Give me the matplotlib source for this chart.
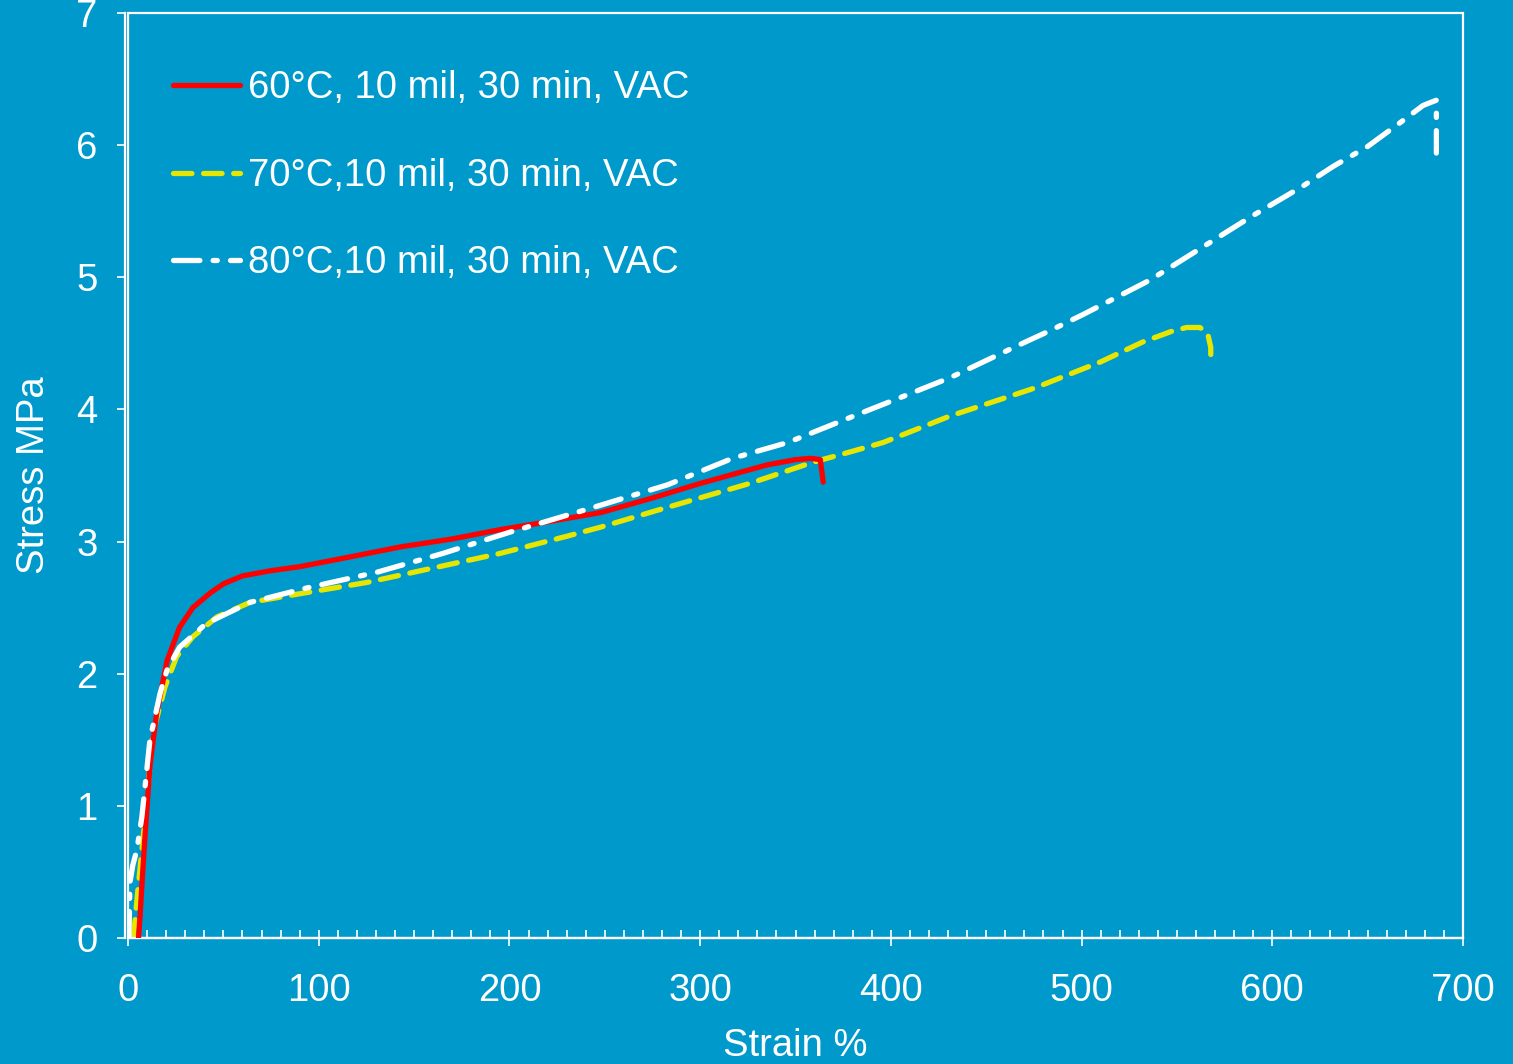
import matplotlib
matplotlib.use("Agg")
import matplotlib.pyplot as plt
from matplotlib.patches import Rectangle
from matplotlib.ticker import MultipleLocator

plt.rcParams['font.family'] = ['Liberation Sans', 'DejaVu Sans']

# values
strain_60 = [5.5, 6.3, 7.5, 9, 11.5, 15, 20.5, 27, 34, 43, 50, 60, 75, 90, 115,
             143, 170, 195, 220, 248, 275, 300, 320, 335, 350, 358, 363, 364.5]
stress_60 = [0, 0.16, 0.45, 0.79, 1.3, 1.7, 2.1, 2.35, 2.5, 2.61, 2.68, 2.74, 2.78, 2.81, 2.88,
             2.96, 3.02, 3.09, 3.15, 3.22, 3.33, 3.44, 3.52, 3.58, 3.62, 3.63, 3.62, 3.45]

strain_70 = [2.8, 5.5, 7.3, 10.7, 13, 19.4, 25.5, 34, 46.7, 64, 92, 125, 160, 195, 230,
             248, 283, 326, 359, 379, 396, 431, 475, 510, 532, 547, 555, 562, 566, 567.7, 567.7]
stress_70 = [0, 0.41, 0.67, 1.17, 1.55, 1.9, 2.13, 2.28, 2.43, 2.54, 2.61, 2.69, 2.80, 2.91, 3.04,
             3.11, 3.26, 3.44, 3.60, 3.68, 3.75, 3.95, 4.16, 4.36, 4.51, 4.59, 4.62, 4.62, 4.58, 4.47, 4.40]

strain_80 = [0.5, 1, 2.5, 4.7, 7.3, 11.5, 16.8, 20.5, 27, 41, 64, 94, 131, 165, 200,
             242, 283, 317, 346, 384, 405, 431, 466, 484, 501, 536, 589, 616, 632, 650,
             667, 679, 686, 686]
stress_80 = [0, 0.42, 0.55, 0.67, 0.92, 1.5, 1.85, 2.03, 2.2, 2.38, 2.54, 2.65, 2.77, 2.91, 3.07,
             3.25, 3.43, 3.63, 3.75, 3.97, 4.09, 4.24, 4.48, 4.60, 4.72, 4.98, 5.46, 5.69, 5.84, 5.99,
             6.17, 6.30, 6.34, 5.94]

labels = ['60°C, 10 mil, 30 min, VAC', '70°C,10 mil, 30 min, VAC', '80°C,10 mil, 30 min, VAC']

bg = '#0099CC'
fs = 27.5

fig = plt.figure(figsize=(15.13, 10.64), dpi=100, facecolor=bg)
ax = fig.add_axes([0.0846, 0.1184, 0.8824, 0.8694])
ax.set_facecolor(bg)

ax.plot(strain_60, stress_60, color='#FF0000', lw=3.8, label=labels[0],
        solid_capstyle='round', zorder=3)
ax.plot(strain_70, stress_70, color='#E6E600', lw=3.8, ls=(0, (3.5, 2.2)), label=labels[1],
        dash_capstyle='round', zorder=2)
ax.plot(strain_80, stress_80, color='white', lw=3.8, ls=(0, (5, 2.5, 0.8, 2.5)), label=labels[2],
        dash_capstyle='round', zorder=4)

ax.set_xlim(0, 700)
ax.set_ylim(0, 7)
ax.xaxis.set_major_locator(MultipleLocator(100))
ax.xaxis.set_minor_locator(MultipleLocator(10))
ax.yaxis.set_major_locator(MultipleLocator(1))

for side in ['top', 'right']:
    ax.spines[side].set_visible(False)
ax.spines['left'].set_position(('outward', 2))
for side in ['left', 'bottom']:
    ax.spines[side].set_color('white')
    ax.spines[side].set_linewidth(1.6)
ax.add_patch(Rectangle((0, 0), 1, 1, transform=ax.transAxes, fill=False,
                       edgecolor='white', lw=1.6, clip_on=False, zorder=1))

ax.tick_params(axis='x', which='major', direction='inout', length=12, width=1.2,
               colors='white', labelsize=fs, pad=19)
ax.tick_params(axis='x', which='minor', direction='in', length=6, width=1.2, colors='white')
ax.tick_params(axis='y', which='major', direction='out', length=6, width=1.2,
               colors='white', labelsize=fs, pad=14)

ax.set_xlabel('Strain %', color='white', fontsize=fs, labelpad=14)
ax.set_ylabel('Stress MPa', color='white', fontsize=fs, labelpad=17)

leg = ax.legend(loc='upper left', frameon=False, fontsize=fs, handlelength=1.75,
                handletextpad=0.2, labelspacing=1.35, borderaxespad=0.4,
                bbox_to_anchor=(0.011, 0.971))
for t in leg.get_texts():
    t.set_color('white')

fig.savefig('out.png', dpi=100, facecolor=bg)
